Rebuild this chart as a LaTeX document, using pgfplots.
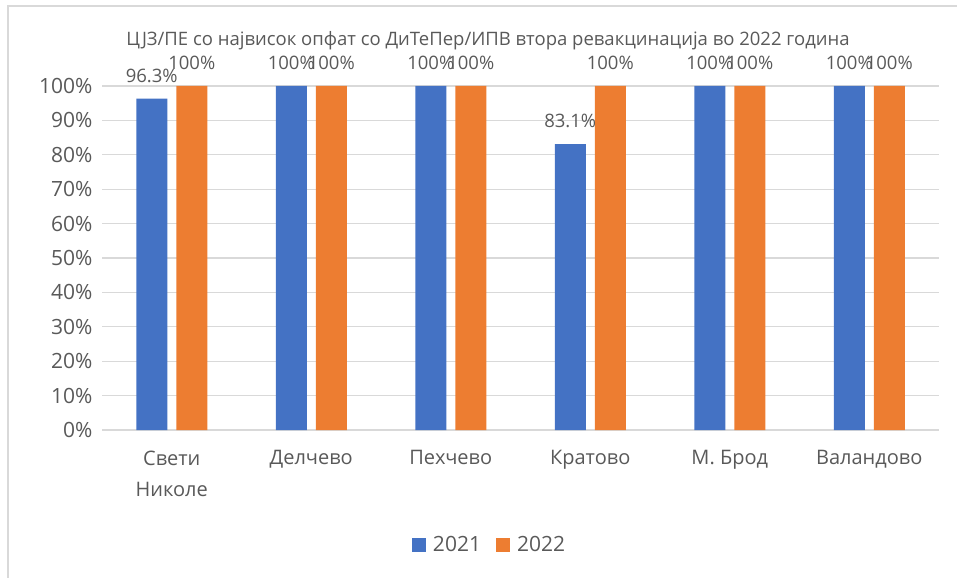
\documentclass[border=0pt]{standalone}
\usepackage{fontspec}
\setmainfont{Open Sans}
\usepackage{pgfplots}
\pgfplotsset{compat=1.18}
\definecolor{cblue}{HTML}{4472C4}
\definecolor{corange}{HTML}{ED7D31}
\definecolor{ctext}{HTML}{595959}
\definecolor{cgrid}{HTML}{D9D9D9}
\newcommand{\cfont}{\fontsize{18.5bp}{23bp}\selectfont}
\newcommand{\tfont}{\fontsize{21bp}{31bp}\selectfont}
\newcommand{\xfont}{\fontsize{20bp}{31bp}\selectfont}
\begin{document}
\begin{tikzpicture}
\useasboundingbox (0bp,0bp) rectangle (957bp,578bp);
\draw[cgrid, line width=1.2bp] (8bp,0bp) -- (8bp,572bp) -- (957bp,572bp);
\node[text=ctext, font=\cfont] at (488bp,537bp) {ЦЈЗ/ПЕ со највисок опфат со ДиТеПер/ИПВ втора ревакцинација во 2022 година};
\begin{axis}[
  at={(102bp,148bp)}, anchor=south west,
  scale only axis, width=837bp, height=344bp,
  ymin=0, ymax=100, ytick={0,10,...,100},
  yticklabel={\pgfmathprintnumber{\tick}\%},
  xmin=-0.5, xmax=5.5, xtick={0,...,5},
  xticklabels={{Свети\\Николе},Делчево,Пехчево,Кратово,М. Брод,Валандово},
  axis line style={draw=none}, major tick length=0,
  ymajorgrids, grid style={cgrid, line width=1.2bp},
  tick label style={text=ctext},
  xticklabel style={align=center, font=\xfont, yshift=-17bp},
  yticklabel style={font=\tfont, xshift=-6bp},
  /pgf/number format/assume math mode=true,
  ybar, bar width=31bp,
  clip=false,
  nodes near coords={\pgfmathprintnumber[fixed,precision=1]{\pgfplotspointmeta}\%},
  nodes near coords style={anchor=center, yshift=23bp, text=ctext, font=\cfont},
  legend style={at={(0.4636,-0.334)}, anchor=center, draw=none, fill=none,
    legend columns=2, font=\tfont, text=ctext,
    nodes={inner sep=3bp},
    /tikz/every odd column/.append style={column sep=4bp},
    /tikz/every even column/.append style={column sep=12bp}},
  legend image code/.code={\fill[#1, draw=none] (0bp,-7bp) rectangle (14bp,7bp);},
]
\addplot[fill=cblue, draw=none, bar shift=-20bp] coordinates {(0,96.3) (1,100) (2,100) (3,83.1) (4,100) (5,100)};
\addplot[fill=corange, draw=none, bar shift=20bp] coordinates {(0,100) (1,100) (2,100) (3,100) (4,100) (5,100)};
\legend{2021,2022}
\end{axis}
\end{tikzpicture}
\end{document}
